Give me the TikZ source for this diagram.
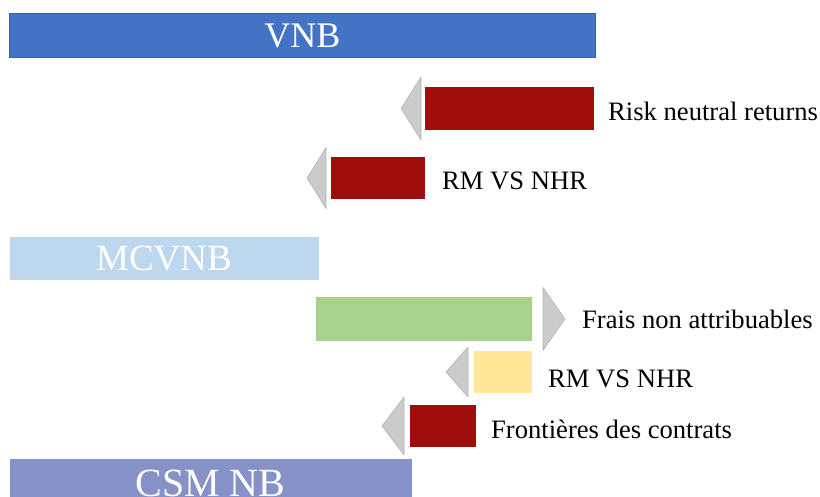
\documentclass[tikz,border=0pt]{standalone}
\usepackage{fontspec}
\setmainfont{Liberation Serif}
\definecolor{vnbblue}{HTML}{4472C4}
\definecolor{vnbedge}{HTML}{3A62AA}
\definecolor{mcblue}{HTML}{BDD7EE}
\definecolor{csmpurple}{HTML}{8591C7}
\definecolor{darkred}{HTML}{A00D0D}
\definecolor{fresh}{HTML}{A9D18E}
\definecolor{sand}{HTML}{FFE699}
\definecolor{arrowgrey}{HTML}{CBCBCB}
\definecolor{arrowedge}{HTML}{B4B4B4}
\tikzset{
  bar/.style={anchor=north west, inner sep=0pt, outer sep=0pt, text=white},
  lbl/.style={anchor=base west, inner sep=0pt, font=\fontsize{26.6}{28}\selectfont},
  pointer/.style={fill=arrowgrey, draw=arrowedge, line width=0.6pt, line join=round}
}
\begin{document}
\begin{tikzpicture}[x=1pt, y=-1pt]
  \useasboundingbox (0,0) rectangle (820,497);

  % totals
  \node[bar, fill=vnbblue, draw=vnbedge, line width=0.8pt, minimum width=586pt, minimum height=44pt,
        font=\fontsize{36}{38}\selectfont] (vnb) at (9.5,13.5) {VNB};
  \node[bar, fill=mcblue, minimum width=309pt, minimum height=43pt,
        font=\fontsize{37}{39}\selectfont] (mcvnb) at (9.5,237.5) {MCVNB};
  \node[bar, fill=csmpurple, minimum width=402pt, minimum height=50pt,
        font=\fontsize{40}{42}\selectfont] (csm) at (9.5,458.5) {CSM NB};

  % step bars
  \node[bar, fill=darkred, minimum width=169pt, minimum height=43pt] (rnr) at (425,87) {};
  \node[bar, fill=darkred, minimum width=94pt, minimum height=42pt] (rm1) at (331,157) {};
  \node[bar, fill=fresh, minimum width=216pt, minimum height=44pt] (frais) at (316,297) {};
  \node[bar, fill=sand, minimum width=58pt, minimum height=42pt] (rm2) at (474,351) {};
  \node[bar, fill=darkred, minimum width=66pt, minimum height=42pt] (front) at (410,405) {};

  % grey pointers
  \path[pointer] ([xshift=-4pt,yshift=31.5pt]rnr.west) -- ([xshift=-24pt]rnr.west)
                 -- ([xshift=-4pt,yshift=-31.5pt]rnr.west) -- cycle;
  \path[pointer] ([xshift=-5pt,yshift=30.5pt]rm1.west) -- ([xshift=-24pt]rm1.west)
                 -- ([xshift=-5pt,yshift=-30.5pt]rm1.west) -- cycle;
  \path[pointer] ([xshift=11pt,yshift=31.5pt]frais.east) -- ([xshift=33pt]frais.east)
                 -- ([xshift=11pt,yshift=-31.5pt]frais.east) -- cycle;
  \path[pointer] ([xshift=-6pt,yshift=25pt]rm2.west) -- ([xshift=-28pt]rm2.west)
                 -- ([xshift=-6pt,yshift=-25pt]rm2.west) -- cycle;
  \path[pointer] ([xshift=-6pt,yshift=29pt]front.west) -- ([xshift=-28pt]front.west)
                 -- ([xshift=-6pt,yshift=-29pt]front.west) -- cycle;

  % labels
  \node[lbl] (trnr) at (608,121) {Risk neutral returns};
  \node[lbl] (trm1) at (442,190) {RM VS NHR};
  \node[lbl] (tfrais) at (582,329) {Frais non attribuables};
  \node[lbl] (trm2) at (548,387) {RM VS NHR};
  \node[lbl] (tfront) at (491,438) {Frontières des contrats};
\end{tikzpicture}
\end{document}
